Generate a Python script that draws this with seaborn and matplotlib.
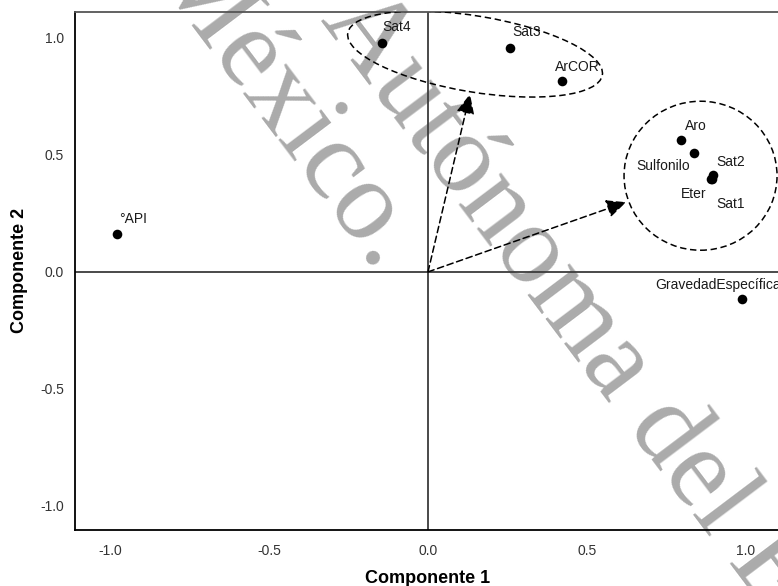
import matplotlib
matplotlib.use("Agg")
import matplotlib.pyplot as plt
import matplotlib.transforms as mtransforms
from matplotlib.patches import Ellipse
import pandas as pd
import seaborn as sns

# Component loadings (rotated component plot)
variables = ["°API", "Sat4", "Sat3", "ArCOR", "Aro", "Sulfonilo",
             "Sat2", "Eter", "Sat1", "GravedadEspecífica"]
comp1 = [-0.979, -0.146, 0.258, 0.420, 0.796, 0.837, 0.897, 0.890, 0.892, 0.986]
comp2 = [0.161, 0.980, 0.958, 0.817, 0.563, 0.510, 0.416, 0.395, 0.399, -0.115]

tick_values = [-1.0, -0.5, 0.0, 0.5, 1.0]
tick_labels = ["-1.0", "-0.5", "0.0", "0.5", "1.0"]

x_label = "Componente 1"
y_label = "Componente 2"
watermark_lines = ["Universidad Autónoma del Estado de México.",
                   "Autónoma del Estado de México."]

df = pd.DataFrame({"variable": variables, x_label: comp1, y_label: comp2})

sns.set_theme(style="white")
plt.rcParams["font.family"] = ["Liberation Sans", "DejaVu Sans"]

W, H = 778, 586
fig = plt.figure(figsize=(W / 100, H / 100), dpi=100)
fig.patch.set_facecolor("white")

# diagonal watermark behind the axes
wm_kw = dict(fontfamily=["Liberation Serif", "DejaVu Serif"], fontsize=82,
             color="#ababab", rotation=-53, rotation_mode="anchor",
             va="baseline", zorder=-5)
fig.text(377 / W, 1 - 272 / H, watermark_lines[0], ha="right", **wm_kw)
fig.text(320 / W, 1 - 20 / H, watermark_lines[1], ha="left", **wm_kw)

ax = fig.add_axes([75 / W, 1 - 530 / H, (781 - 75) / W, (530 - 11.7) / H])
ax.patch.set_alpha(0)

ax.axhline(0, color="#3c3c3c", lw=1.3, zorder=1)
ax.axvline(0, color="#3c3c3c", lw=1.3, zorder=1)

sns.scatterplot(data=df, x=x_label, y=y_label, color="black", s=48,
                linewidth=0, legend=False, ax=ax, zorder=5)

# label offsets in points: (dx, dy, horizontal alignment)
label_style = {
    "°API": (1.5, 11, "left"),
    "Sat4": (0.7, 11, "left"),
    "Sat3": (1.5, 11, "left"),
    "ArCOR": (-5, 10, "left"),
    "Aro": (3, 10, "left"),
    "Sulfonilo": (-3, -9.5, "right"),
    "Sat2": (2.2, 9, "left"),
    "Eter": (-3.6, -10.5, "right"),
    "Sat1": (3, -18, "left"),
    "GravedadEspecífica": (-62, 10, "left"),
}
for name, xv, yv in zip(variables, comp1, comp2):
    dx, dy, ha = label_style[name]
    ax.annotate(name, (xv, yv), xytext=(dx, dy), textcoords="offset points",
                ha=ha, va="center", fontsize=10, color="#1a1a1a", zorder=6)

dash = (0, (4.2, 2.4))


def dashed_ellipse(cx, cy, w_in, h_in, angle):
    trans = fig.dpi_scale_trans + mtransforms.ScaledTranslation(cx, cy, ax.transData)
    ax.add_patch(Ellipse((0, 0), w_in, h_in, angle=angle, transform=trans,
                         fill=False, ec="black", lw=1.1, ls=dash, zorder=4))


dashed_ellipse(0.148, 0.931, 2.58, 0.76, -9.4)
dashed_ellipse(0.857, 0.411, 1.53, 1.49, 0)

for tip in [(0.132, 0.760), (0.623, 0.298)]:
    ax.annotate("", xy=tip, xytext=(0, 0),
                arrowprops=dict(arrowstyle="-|>,head_length=1.2,head_width=0.55",
                                mutation_scale=10, lw=1.1, ls=dash,
                                color="black", shrinkA=0, shrinkB=0),
                zorder=4)

ax.set_xlim(-1.11, 1.11)
ax.set_ylim(-1.103, 1.112)
ax.set_xticks(tick_values)
ax.set_xticklabels(tick_labels)
ax.set_yticks(tick_values)
ax.set_yticklabels(tick_labels)
ax.tick_params(axis="both", direction="out", length=6, width=1.1,
               color="black", labelsize=10, labelcolor="#333333")
ax.tick_params(axis="x", pad=4)
ax.tick_params(axis="y", pad=2)

for side in ["left", "bottom"]:
    ax.spines[side].set_color("black")
    ax.spines[side].set_linewidth(1.3)
ax.spines["top"].set_color("#555555")
ax.spines["top"].set_linewidth(1.3)
ax.spines["right"].set_visible(False)

ax.set_xlabel(x_label, fontsize=13, fontweight="bold", color="black")
ax.set_ylabel(y_label, fontsize=13, fontweight="bold", color="black")
ax.xaxis.set_label_coords(0.5, (530 - 570) / 518.3)
ax.yaxis.set_label_coords((28 - 75) / 706, 0.5)

fig.savefig("out.png", dpi=100, facecolor="white")
